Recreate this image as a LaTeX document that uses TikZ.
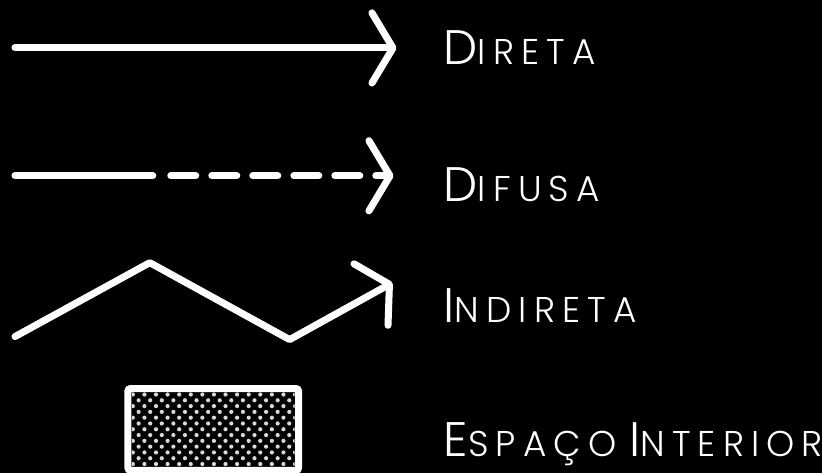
\documentclass[tikz,border=0pt]{standalone}
\usepackage{fontspec}
\usetikzlibrary{arrows.meta}
\newfontfamily\legendfont[LetterSpace=20]{Poppins Light}
\newcommand{\legcaps}[2]{{\fontsize{34.5}{35}\selectfont #1}{\fontsize{25.5}{26}\selectfont #2}}

\begin{document}
\begin{tikzpicture}[x=0.025cm, y=-0.025cm,
    ray/.style={white, line width=5pt, line cap=round, line join=round,
      -{Straight Barb[length=15pt, width=50pt, line cap=round, line join=round]}},
    leg/.style={white, anchor=base west, inner sep=0pt, font=\legendfont}]
    \fill[black] (0,0) rectangle (823,474);

    % direta
    \coordinate (dir-a) at (15,48);
    \coordinate (dir-b) at (397,48);
    \draw[ray] (dir-a) -- (dir-b);
    \node[leg] (dir-l) at (444,65) {\legcaps{D}{IRETA}};

    % difusa
    \coordinate (dif-a) at (15,176);
    \coordinate (dif-m) at (153,176);
    \coordinate (dif-n) at (171,176);
    \coordinate (dif-b) at (394,176);
    \draw[white, line width=5pt, line cap=round] (dif-a) -- (dif-m);
    \draw[ray, dash pattern=on 17.8pt off 11.4pt] (dif-n) -- (dif-b);
    \node[leg] (dif-l) at (444,202) {\legcaps{D}{IFUSA}};

    % indireta
    \coordinate (ind-a) at (15,337);
    \coordinate (ind-p) at (150,263);
    \coordinate (ind-v) at (290,340);
    \coordinate (ind-b) at (393,283);
    \draw[ray] (ind-a) -- (ind-p) -- (ind-v) -- (ind-b);
    \node[leg] (ind-l) at (444,323) {\legcaps{I}{NDIRETA}};

    % espaco interior
    \begin{scope}
      \clip (132,393) rectangle (295,468);
      \foreach \r in {0,...,13} {
        \foreach \c in {0,...,15} {
          \fill[white!85!black] ({133+11.6*\c+5.8*mod(\r,2)},{395+5.8*\r}) circle (2.1);
        }
      }
    \end{scope}
    \draw[white, line width=5pt, rounded corners=2pt] (128,389) rectangle (299,471);
    \node[leg] (esp-l) at (444,457) {\legcaps{E}{SPAÇO}\hspace{9pt}\legcaps{I}{NTERIOR}};
\end{tikzpicture}
\end{document}
